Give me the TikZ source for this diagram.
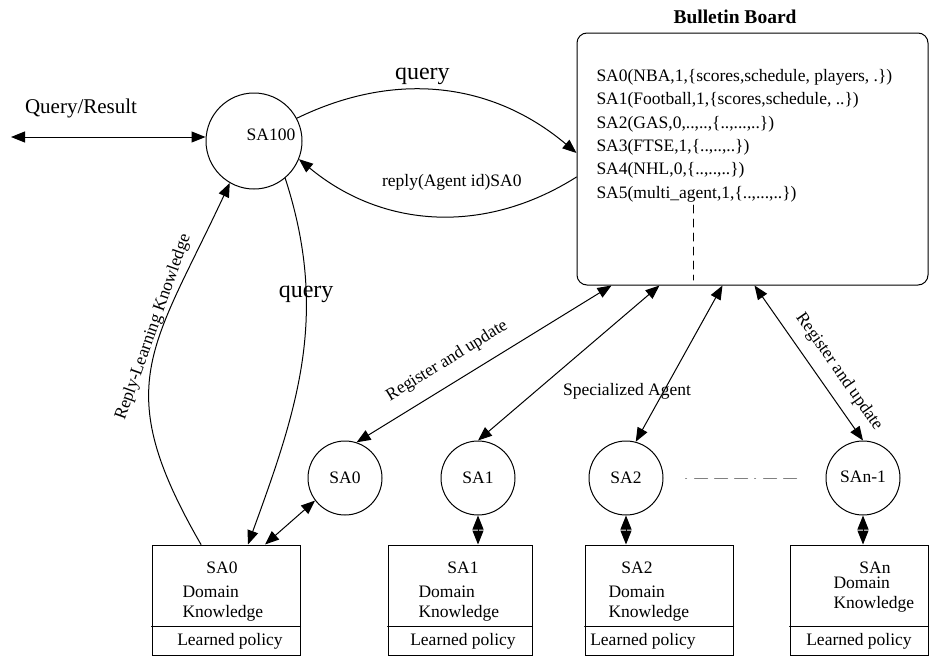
\documentclass[tikz,border=0pt]{standalone}
\usepackage{fontspec}
\setmainfont{Liberation Serif}
\usetikzlibrary{arrows.meta,calc}

\begin{document}
\begin{tikzpicture}[>={Triangle[length=14pt,width=11pt]},x=1pt,y=-1pt,line width=1pt,line cap=round,
		agent/.style={circle,draw,inner sep=0pt,minimum size=74pt,font=\fontsize{17.5}{20}\selectfont},
		kbox/.style={draw,inner sep=0pt,minimum height=110pt},
		row/.style={anchor=base west,inner sep=0pt,font=\fontsize{17.5}{20}\selectfont},
		txt/.style={inner sep=0pt,text height=11.5pt,text depth=0pt,font=\fontsize{17.5}{20}\selectfont},
		big/.style={inner sep=0pt,text height=10.8pt,text depth=0pt,font=\fontsize{24}{27}\selectfont}]
		\useasboundingbox (0,0) rectangle (930,656);
		% bulletin board
		\node[draw,rounded corners=10pt,inner sep=0pt,minimum width=351pt,minimum height=252pt] (bb) at (752.5,159) {};
		\node[font=\bfseries\fontsize{19.5}{22}\selectfont] (title) at (735,17) {Bulletin Board};
		\node[row] (row1) at (596,81) {SA0(NBA,1,\{scores,schedule, players, .\})};
		\node[row] (row2) at (596,104) {SA1(Football,1,\{scores,schedule, ..\})};
		\node[row] (row3) at (596,128) {SA2(GAS,0,..,..,\{..,...,..\})};
		\node[row] (row4) at (596,151) {SA3(FTSE,1,\{..,..,..\})};
		\node[row] (row5) at (596,174) {SA4(NHL,0,\{..,..,..\})};
		\node[row] (row6) at (596,198) {SA5(multi\_agent,1,\{..,...,..\})};
		\draw[dash pattern=on 8pt off 6pt] (693,205) -- (693,280);
		% agents
		\node[agent,minimum size=96pt,label={[xshift=17pt,yshift=6pt,font=\fontsize{17.5}{20}\selectfont]center:SA100}] (sa100) at (254,141) {};
		\foreach \X/\n/\T in {345/0/SA0,478/1/SA1,626/2/SA2,863/3/\raisebox{3pt}{SAn-1}}
		{\node[agent] (sa\n) at (\X,478) {\T};}
		% knowledge boxes
		\foreach \X/\W/\n in {226/148/0,460/144/1,659/148/2,859/138/3}
		{\node[kbox,minimum width=\W pt] (box\n) at (\X,600) {};
			\draw ($(box\n.west)+(0,26)$) -- ($(box\n.east)+(0,26)$);}
		\foreach \n/\ix/\dx/\dy/\lx/\T in {0/222/182/592/230/SA0,1/463/418/592/463/SA1,2/637/608/592/643/SA2,3/875/833/583/859/SAn}
		{\node[txt] (id\n) at (\ix,568) {\T};
			\node[txt,anchor=west] (dom\n) at (\dx,\dy) {Domain};
			\node[txt,anchor=west] (kn\n) at (\dx,\dy+20) {Knowledge};
			\node[txt] (lp\n) at (\lx,640) {Learned policy};}
		% connectors
		\coordinate (qr) at (11,137);
		\draw[<->] (qr) -- (qr -| sa100.west) node[pos=0.36,above=23pt,txt,font=\fontsize{21}{24}\selectfont]{Query/Result};
		\draw[->] (sa100.28) to[bend left=33] node[pos=0.43,above=9pt,big]{query} ([yshift=6pt]bb.west);
		\draw[->] ([yshift=-18pt]bb.west) to[bend left=36] node[pos=0.44,above=29pt,txt]{reply(Agent id)SA0} (sa100.-22);
		\draw[->] (sa100.-50) to[out=-72,in=70] node[pos=0.3,big]{query} ([xshift=22pt]box0.north);
		\draw[->] ([xshift=-25pt]box0.north) to[out=120,in=-115,looseness=1.3] node[pos=0.62,sloped,above=4pt,txt]{Reply-Learning Knowledge} (sa100.-120);
		\draw[<->] (sa0.-143) -- ([xshift=39pt]box0.north);
		\foreach \n in {1,2,3}
		{\draw[<->] (sa\n.south) -- (sa\n.south |- box\n.north);}
		\draw[<->] (sa0.72) -- ([xshift=35pt]bb.south west) node[pos=0.4,sloped,above=17pt,txt]{Register and update};
		\draw[<->] (sa1.north) -- ([xshift=83pt]bb.south west);
		\draw[<->] (sa2.75) -- ([xshift=146pt]bb.south west);
		\draw[<->] ([xshift=178pt]bb.south west) -- (sa3.north) node[pos=0.63,sloped,above=15pt,txt]{Register and update};
		\node[txt] (spec) at (627,390) {Specialized Agent};
		\draw[gray,dash pattern=on 1pt off 8pt on 13pt off 7pt on 13pt off 7pt on 13pt off 7pt] ([xshift=22pt]sa2.east) -- ([xshift=-24pt]sa3.west);
\end{tikzpicture}
\end{document}
